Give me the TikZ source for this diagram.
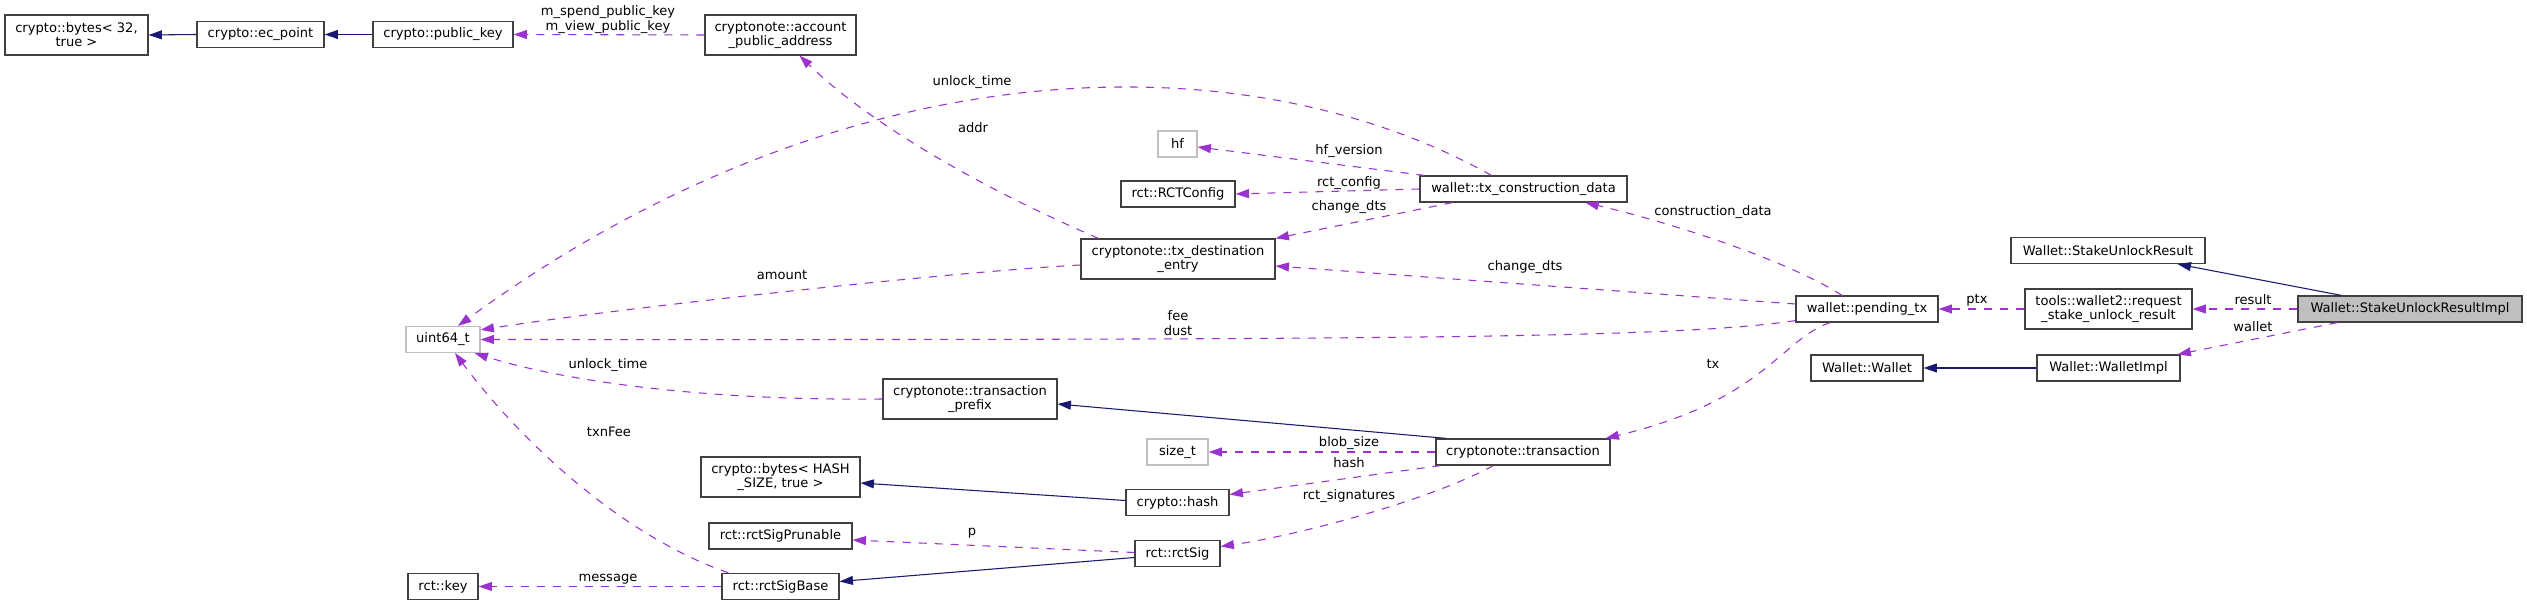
\documentclass[tikz,border=0pt]{standalone}
\usepackage{fontspec}
\setmainfont{DejaVu Sans}
\usetikzlibrary{arrows.meta,calc}
\definecolor{edgeblue}{HTML}{191970}
\definecolor{edgepurple}{HTML}{9A32CD}
\definecolor{greyb}{HTML}{BFBFBF}
\definecolor{boxline}{HTML}{404040}
\begin{document}
\begin{tikzpicture}[x=0.75pt,y=-0.75pt,
  every node/.style={font=\fontsize{9.8}{10.5}\selectfont, inner sep=0pt},
  box/.style={draw=boxline, line width=0.9pt, minimum height=26*0.75pt, align=center, fill=white},
  box2/.style={box, minimum height=40*0.75pt},
  bw/.style={minimum width=#1*0.75pt},
  ghost/.style={box, draw=greyb},
  cur/.style={box, fill=greyb},
  inh/.style={draw=edgeblue, line width=0.8pt, -{Triangle[length=10pt,width=6.7pt]}},
  use/.style={draw=edgepurple, line width=0.8pt, dash pattern=on 6pt off 6pt, -{Triangle[length=10pt,width=6.7pt]}},
  lbl/.style={align=center, font=\fontsize{9.8}{11.3}\selectfont}
]
\useasboundingbox (0,0) rectangle (2527,605);

% nodes
\node[box2,bw=143] (b32) at (76.5,35) {crypto::bytes< 32,\\ true >};
\node[box,bw=127] (ecp) at (260.5,34.5) {crypto::ec\_point};
\node[box,bw=140] (pk) at (443,34.5) {crypto::public\_key};
\node[box2,bw=151] (apa) at (780.5,35) {cryptonote::account\\\_public\_address};
\node[ghost,bw=74] (u64) at (443,339.5) {uint64\_t};
\node[box,bw=70] (rkey) at (443,586.5) {rct::key};
\node[ghost,bw=39] (hf) at (1177.5,144) {hf};
\node[box,bw=114] (rcfg) at (1178,194) {rct::RCTConfig};
\node[box2,bw=194] (tde) at (1178,259) {cryptonote::tx\_destination\\\_entry};
\node[box,bw=207] (tcd) at (1523.5,189) {wallet::tx\_construction\_data};
\node[box,bw=142] (ptx) at (1867,309) {wallet::pending\_tx};
\node[box,bw=112] (ww) at (1867,368) {Wallet::Wallet};
\node[box2,bw=174] (tpre) at (970,399) {cryptonote::transaction\\\_prefix};
\node[ghost,bw=61] (szt) at (1177.5,452) {size\_t};
\node[box,bw=174] (trx) at (1523,452) {cryptonote::transaction};
\node[box2,bw=159] (bh) at (780.5,477) {crypto::bytes< HASH\\\_SIZE, true >};
\node[box,bw=103] (hash) at (1177.5,502.5) {crypto::hash};
\node[box,bw=143] (rsp) at (780.5,536) {rct::rctSigPrunable};
\node[box,bw=85] (rsig) at (1177.5,553.5) {rct::rctSig};
\node[box,bw=117] (rsb) at (780.5,586.5) {rct::rctSigBase};
\node[box,bw=194] (sur) at (2108,250.5) {Wallet::StakeUnlockResult};
\node[box2,bw=167] (req) at (2108.5,309) {tools::wallet2::request\\\_stake\_unlock\_result};
\node[cur,bw=224] (impl) at (2410,309) {Wallet::StakeUnlockResultImpl};
\node[box,bw=143] (wimpl) at (2108.5,368) {Wallet::WalletImpl};

% edges
\draw[inh] (ecp.west) -- (b32.east);
\draw[inh] (pk.west) -- (ecp.east);
\draw[use] (apa.west) -- (pk.east);
\draw[use] ($(tde.north west)+(18,0)$) .. controls (979,187) and (869,123) .. ($(apa.south)+(19,0)$);
\draw[use] ($(tcd.north west)+(72,0)$) .. controls (1250,40) and (850,40) .. ($(u64.north)+(15,0)$);
\draw[use] ($(tcd.north west)+(5,0)$) -- ($(hf.east)+(0,3)$);
\draw[use] (tcd.west) -- (rcfg.east);
\draw[use] ($(tcd.south west)+(33,0)$) -- (tde.north east);
\draw[use] ($(ptx.north)+(-25,0)$) .. controls (1790,262) and (1680,225) .. ($(tcd.south west)+(166,0)$);
\draw[use] ($(ptx.west)+(0,-5)$) -- ($(tde.east)+(0,7)$);
\draw[use] ($(ptx.south west)+(0,-2)$) .. controls (1680,338) and (1400,340) .. (u64.east);
\draw[use] ($(tde.west)+(0,6)$) .. controls (950,272) and (620,308) .. ($(u64.north east)+(0,4)$);
\draw[use] (tpre.west) .. controls (700,401) and (560,380) .. ($(u64.south east)+(-6,0)$);
\draw[use] ($(rsb.north west)+(7,0)$) .. controls (620,535) and (520,440) .. ($(u64.south)+(12,0)$);
\draw[use] (rsb.west) -- (rkey.east);
\draw[inh] ($(trx.north west)+(11,0)$) -- ($(tpre.east)+(0,5)$);
\draw[use] (trx.west) -- (szt.east);
\draw[use] ($(trx.south west)+(5,0)$) -- ($(hash.east)+(0,-8)$);
\draw[use] ($(trx.south west)+(58,0)$) .. controls (1430,500) and (1300,535) .. ($(rsig.east)+(0,-7)$);
\draw[inh] ($(hash.west)+(0,-2)$) -- ($(bh.east)+(0,6)$);
\draw[use] ($(rsig.west)+(0,-1)$) -- ($(rsp.east)+(0,4)$);
\draw[inh] ($(rsig.west)+(0,4)$) -- ($(rsb.east)+(0,-5)$);
\draw[use] ($(ptx.south)+(-37,0)$) .. controls (1780,340) and (1765,400) .. ($(trx.north east)+(-5,0)$);
\draw[use] (req.west) -- (ptx.east);
\draw[inh] ($(impl.north west)+(44,0)$) -- ($(sur.south east)+(-28,0)$);
\draw[use] (impl.west) -- (req.east);
\draw[use] ($(impl.south west)+(40,0)$) -- ($(wimpl.north east)+(-3,0)$);
\draw[inh] (wimpl.west) -- (ww.east);

% labels
\node[lbl] (l1) at (608,19.5) {m\_spend\_public\_key\\m\_view\_public\_key};
\node[lbl] (l2) at (973,128) {addr};
\node[lbl] (l3) at (972,82) {unlock\_time};
\node[lbl] (l4) at (1349,151) {hf\_version};
\node[lbl] (l5) at (1349,183) {rct\_config};
\node[lbl] (l6) at (1349,207) {change\_dts};
\node[lbl] (l7) at (1713,212) {construction\_data};
\node[lbl] (l8) at (1525,267) {change\_dts};
\node[lbl] (l9) at (782,275) {amount};
\node[lbl] (l10) at (1178,323) {fee\\dust};
\node[lbl] (l11) at (608,365) {unlock\_time};
\node[lbl] (l12) at (609,432) {txnFee};
\node[lbl] (l13) at (608,579) {message};
\node[lbl] (l14) at (1713,364) {tx};
\node[lbl] (l15) at (1349,443) {blob\_size};
\node[lbl] (l16) at (1349,463) {hash};
\node[lbl] (l17) at (1349,496) {rct\_signatures};
\node[lbl] (l18) at (972,533) {p};
\node[lbl] (l19) at (1977,300) {ptx};
\node[lbl] (l20) at (2253,300) {result};
\node[lbl] (l21) at (2253,327) {wallet};
\end{tikzpicture}
\end{document}
